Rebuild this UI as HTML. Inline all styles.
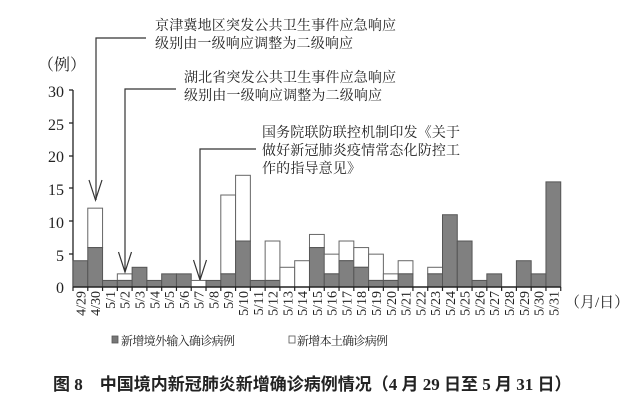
<!DOCTYPE html>
<html><head><meta charset="utf-8"><style>
html,body{margin:0;padding:0;background:#fff;}
svg{display:block;}
text{font-family:"Liberation Serif","Noto Serif CJK SC","Noto Sans CJK SC",serif;fill:#222;}
</style></head><body>
<svg width="641" height="405" viewBox="0 0 641 405" xmlns="http://www.w3.org/2000/svg">
<text x="155" y="30" font-size="14" textLength="241">京津冀地区突发公共卫生事件应急响应</text>
<text x="155" y="48" font-size="14" textLength="198">级别由一级响应调整为二级响应</text>
<text x="184" y="82" font-size="14" textLength="212">湖北省突发公共卫生事件应急响应</text>
<text x="184" y="100" font-size="14" textLength="198">级别由一级响应调整为二级响应</text>
<text x="262" y="137" font-size="14" textLength="198">国务院联防联控机制印发《关于</text>
<text x="262" y="155" font-size="14" textLength="198">做好新冠肺炎疫情常态化防控工</text>
<text x="262" y="173" font-size="14" textLength="99">作的指导意见》</text>
<g stroke="#333" stroke-width="1.2" fill="none">
<polyline points="146,38 96,38 96,200"/>
<polyline points="89,180 95.5,200 102,180"/>
<polyline points="176,89 125,89 125,272"/>
<polyline points="118.5,252 125,272 131.5,252"/>
<polyline points="256,149 200,149 200,280"/>
<polyline points="193.5,260 200,280 206.5,260"/>
</g>
<text x="38" y="70" font-size="16">（例）</text>
<g font-size="16" text-anchor="end">
<text x="64" y="97">30</text><text x="64" y="130">25</text><text x="64" y="162">20</text>
<text x="64" y="195">15</text><text x="64" y="228">10</text><text x="64" y="261">5</text><text x="64" y="293">0</text>
</g>
<g stroke="#222" stroke-width="1.3">
<line x1="73" y1="90" x2="73" y2="287"/>
<line x1="69" y1="90" x2="73" y2="90"/><line x1="69" y1="123" x2="73" y2="123"/>
<line x1="69" y1="156" x2="73" y2="156"/><line x1="69" y1="188" x2="73" y2="188"/>
<line x1="69" y1="221" x2="73" y2="221"/><line x1="69" y1="254" x2="73" y2="254"/>
</g>
<g id="bars"></g>
<g id="xl"></g>
<text x="565" y="307" font-size="15">（月/日）</text>
<rect x="112" y="336" width="6" height="7" fill="#777" stroke="#555" stroke-width="0.8"/>
<text x="121" y="345" font-size="12" textLength="114">新增境外输入确诊病例</text>
<rect x="289" y="336" width="6" height="7" fill="#fff" stroke="#555" stroke-width="0.8"/>
<text x="297" y="345" font-size="12" textLength="91">新增本土确诊病例</text>
<text x="53" y="390" font-size="17" font-weight="bold" style="font-family:'Liberation Serif','Noto Sans CJK SC',sans-serif">图 8　中国境内新冠肺炎新增确诊病例情况（4 月 29 日至 5 月 31 日）</text>
<script>
var d=[[4,4],[6,12],[1,1],[1,2],[3,3],[1,1],[2,2],[2,2],[0,1],[1,1],[2,14],[7,17],[1,1],[1,7],[0,3],[0,4],[6,8],[2,5],[4,7],[3,6],[1,5],[1,2],[2,4],[0,0],[2,3],[11,11],[7,7],[1,1],[2,2],[0,0],[4,4],[2,2],[16,16]];
var lab=["4/29","4/30"];for(var i=1;i<=31;i++)lab.push("5/"+i);
var x0=73,w=14.78,y0=287,s=6.57,ns="http://www.w3.org/2000/svg",g=document.getElementById("bars"),xl=document.getElementById("xl");
function el(t,a,p){var e=document.createElementNS(ns,t);for(var k in a)e.setAttribute(k,a[k]);p.appendChild(e);return e;}
d.forEach(function(v,i){var x=x0+i*w;
 if(v[1]>v[0])el("rect",{x:x,y:y0-v[1]*s,width:w,height:(v[1]-v[0])*s,fill:"#fff",stroke:"#666","stroke-width":1},g);
 if(v[0]>0)el("rect",{x:x,y:y0-v[0]*s,width:w,height:v[0]*s,fill:"#808080",stroke:"#555","stroke-width":1},g);
 var t=el("text",{x:0,y:0,"font-size":14,"text-anchor":"end",transform:"translate("+(x+w/2+5)+",291) rotate(-90)"},xl);t.textContent=lab[i];
});
el("line",{x1:x0,y1:y0,x2:x0+33*w,y2:y0,stroke:"#222","stroke-width":1.5},g);
for(var i=0;i<=33;i++)el("line",{x1:x0+i*w,y1:y0,x2:x0+i*w,y2:y0+4,stroke:"#222","stroke-width":1.2},g);
</script>
</svg>
</body></html>
